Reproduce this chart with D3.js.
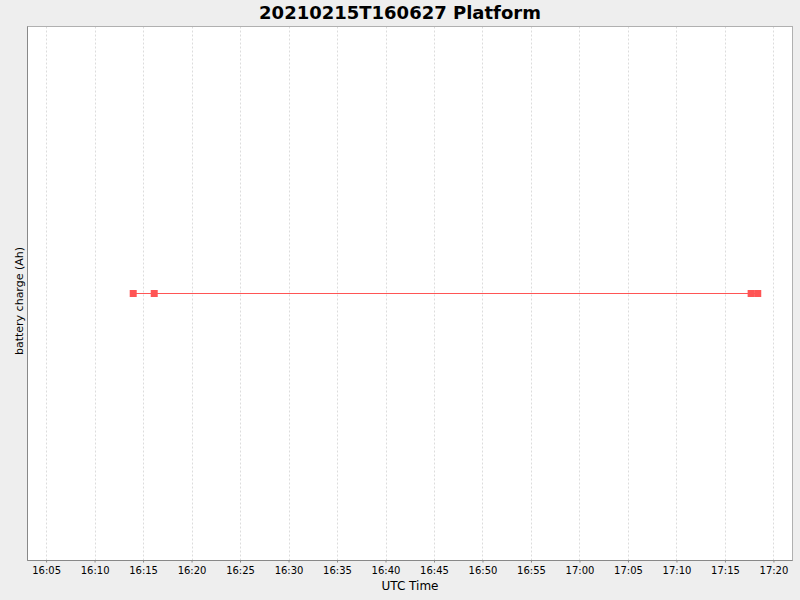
<!DOCTYPE html>
<html><head><meta charset="utf-8">
<script src="https://cdn.jsdelivr.net/npm/d3@7"></script>
<style>body{margin:0;background:#eeeeee;}svg{display:block;}</style>
</head><body><svg id="c" width="800" height="600"></svg>
<script>
const title = "20210215T160627 Platform";
const xLabel = "UTC Time";
const yLabel = "battery charge (Ah)";
const times = ["2021-02-15T16:13:59Z","2021-02-15T16:16:09Z","2021-02-15T17:17:42Z","2021-02-15T17:18:23Z"];
const charge = [0, 0, 0, 0];
const xDomain = ["2021-02-15T16:03:05Z","2021-02-15T17:21:58Z"];
const tickTimes = ["16:05","16:10","16:15","16:20","16:25","16:30","16:35","16:40","16:45","16:50","16:55","17:00","17:05","17:10","17:15","17:20"];

const svg = d3.select("#c");
const L = 27.5, R = 792.5, T = 26.5, B = 560.5;
const x = d3.scaleUtc().domain(xDomain.map(d=>new Date(d))).range([L, R]);
const y = d3.scaleLinear().domain([-1, 1]).range([B, T]);
const data = times.map((t,i)=>({t:new Date(t), v:charge[i]}));
const ticks = tickTimes.map(s=>new Date("2021-02-15T"+s+":00Z"));

svg.append("rect").attr("x",L).attr("y",T).attr("width",R-L).attr("height",B-T).attr("fill","#fff");
// grid
svg.append("g").selectAll("line").data(ticks).join("line")
  .attr("x1",d=>Math.round(x(d))+0.5).attr("x2",d=>Math.round(x(d))+0.5)
  .attr("y1",T).attr("y2",B).attr("stroke","#dcdcdc").attr("stroke-width",1).attr("stroke-dasharray","2,2");
// outline
svg.append("rect").attr("x",L).attr("y",T).attr("width",R-L).attr("height",B-T)
  .attr("fill","none").attr("stroke","#b0b0b0");
svg.append("line").attr("x1",L).attr("x2",L).attr("y1",T).attr("y2",B).attr("stroke","#888");
svg.append("line").attr("x1",L).attr("x2",R).attr("y1",B).attr("y2",B).attr("stroke","#888");

// x axis
const xa = d3.axisBottom(x).tickValues(ticks).tickFormat(d3.utcFormat("%H:%M")).tickSize(2).tickPadding(4);
const gx = svg.append("g").attr("transform",`translate(0,${B})`).call(xa);
gx.select(".domain").remove();
gx.selectAll(".tick line").attr("stroke","#888");
gx.selectAll("text").attr("font-family","DejaVu Sans").attr("font-size",10).attr("fill","#000");

// line
svg.append("path").datum(data).attr("fill","none").attr("stroke","#ff5555").attr("stroke-width",1)
  .attr("d", d3.line().x(d=>x(d.t)).y(d=>y(d.v)));
svg.append("g").selectAll("rect").data(data).join("rect")
  .attr("x",d=>x(d.t)-3.5).attr("y",d=>y(d.v)-3.5).attr("width",7).attr("height",7)
  .attr("fill","#ff5555");

svg.append("text").attr("x",400).attr("y",19).attr("text-anchor","middle")
  .attr("font-family","DejaVu Sans").attr("font-weight","bold").attr("font-size",18).text(title);
svg.append("text").attr("x",(L+R)/2).attr("y",590).attr("text-anchor","middle")
  .attr("font-family","DejaVu Sans").attr("font-size",12).text(xLabel);
svg.append("text").attr("transform",`translate(23,301) rotate(-90)`).attr("text-anchor","middle")
  .attr("font-family","DejaVu Sans").attr("font-size",11).text(yLabel);
</script></body></html>
